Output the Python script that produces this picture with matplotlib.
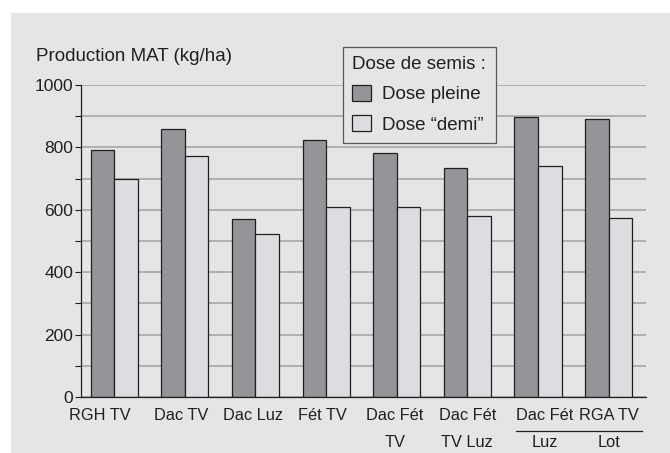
import matplotlib
matplotlib.use("Agg")
import matplotlib.pyplot as plt
from matplotlib.patches import Rectangle, Patch
from matplotlib.lines import Line2D
from matplotlib.ticker import MultipleLocator
import numpy as np

# ---- data ----
categories = ["RGH TV", "Dac TV", "Dac Luz", "Fét TV", "Dac Fét\nTV",
              "Dac Fét\nTV Luz", "Dac Fét\nLuz", "RGA TV\nLot"]
dose_pleine = [792, 859, 570, 823, 783, 734, 896, 892]
dose_demi = [698, 773, 523, 610, 610, 581, 740, 573]
series_names = ["Dose pleine", "Dose \u201cdemi\u201d"]
legend_title = "Dose de semis :"
y_title = "Production MAT (kg/ha)"
y_ticks = [0, 200, 400, 600, 800, 1000]

# ---- layout / style ----
label_nudge = [-0.2, -0.05, -0.03, -0.05, -0.03, 0.0, 0.1, 0.0]
BG = "#e5e5e6"
DARK = "#939598"
LIGHT = "#dcdde0"
EDGE = "#231f20"
FONT = ["Liberation Sans", "DejaVu Sans"]
plt.rcParams["font.family"] = FONT

fig = plt.figure(figsize=(6.7, 4.53), dpi=100)
fig.patch.set_facecolor("white")
fig.patches.append(Rectangle((11 / 670, 0), 1 - 11 / 670, 1 - 12.7 / 453,
                             transform=fig.transFigure, facecolor=BG,
                             edgecolor="none", zorder=-10))

ax = fig.add_axes([80.7 / 670, 56 / 453, 565 / 670, 312 / 453])
ax.set_zorder(2)
ax.patch.set_visible(False)

x = np.arange(len(categories))
w = 0.333
shift = -0.025
ax.bar(x + shift - w / 2, dose_pleine, width=w, color=DARK, edgecolor=EDGE,
       linewidth=0.9, zorder=3)
ax.bar(x + shift + w / 2, dose_demi, width=w, color=LIGHT, edgecolor=EDGE,
       linewidth=0.9, zorder=3)

ax.set_xlim(-0.5, len(categories) - 0.5)
ax.set_ylim(0, 1000)
ax.set_yticks(y_ticks)
ax.yaxis.set_minor_locator(MultipleLocator(100))
ax.grid(axis="y", which="both", color="#a2a2a4", linewidth=1.1, zorder=1)
ax.set_axisbelow(True)
ax.tick_params(axis="y", which="both", length=4.5, width=0.8, direction="out",
               color="#231f20", pad=1.0, labelsize=12.5, labelcolor="#231f20")
ax.set_xticks(x + shift + np.array(label_nudge))
ax.set_xticklabels(categories, fontsize=11.8, color="#231f20", linespacing=1.95,
                   va="top")
ax.tick_params(axis="x", length=0, pad=8)
for s in ["top", "right"]:
    ax.spines[s].set_visible(False)
for s in ["left", "bottom"]:
    ax.spines[s].set_color("#231f20")
    ax.spines[s].set_linewidth(0.9)
    ax.spines[s].set_zorder(4)

# separator line under "Dac Fét / RGA TV"
fig.add_artist(Line2D([516 / 670, 642 / 670], [1 - 430.7 / 453, 1 - 430.7 / 453],
                      transform=fig.transFigure, color="#231f20", linewidth=0.9,
                      zorder=5))

fig.text(36 / 670, 1 - 61 / 453, y_title, fontsize=13.5, color="#231f20",
         va="baseline", ha="left", zorder=5)

handles = [Patch(facecolor=DARK, edgecolor=EDGE, linewidth=0.9),
           Patch(facecolor=LIGHT, edgecolor=EDGE, linewidth=0.9)]
leg = fig.legend(handles, series_names, title=legend_title,
                 loc="upper left", bbox_to_anchor=(343 / 670, 1 - 47 / 453),
                 borderaxespad=0,
                 fontsize=13.5, title_fontsize=13.5, frameon=True,
                 fancybox=False, edgecolor="#58595b", facecolor=BG,
                 framealpha=1, handlelength=1.0, handleheight=1.0,
                 handletextpad=0.6, labelspacing=0.6, borderpad=0.5,
                 alignment="left")
leg.set_zorder(6)
leg.get_frame().set_linewidth(0.9)
for t in leg.get_texts():
    t.set_color("#231f20")
leg.get_title().set_color("#231f20")

fig.savefig("out.png", dpi=100, facecolor="white")
